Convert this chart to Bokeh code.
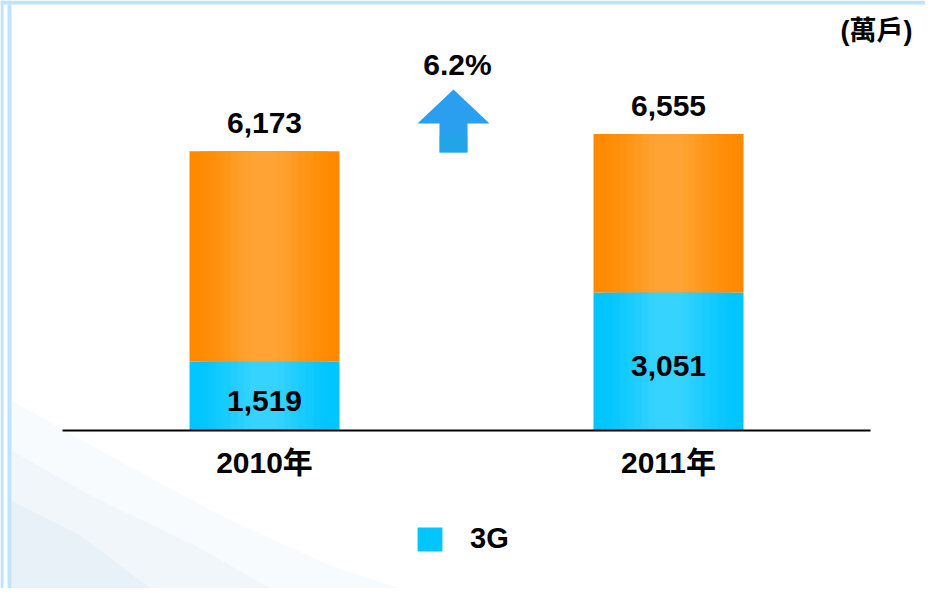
from bokeh.plotting import figure
from bokeh.models import Range1d, Legend, LegendItem
from bokeh.core.properties import value
from bokeh.embed import file_html
from bokeh.resources import INLINE

# ---- data ----
years = ["2010年", "2011年"]
total = [6173, 6555]
g3 = [1519, 3051]
unit_label = "(萬戶)"
legend_label = "3G"

# ---- layout helpers (pixel -> data) ----
W, H = 925, 588
BASE = 430          # baseline, px from top
K = 0.04525         # px per unit
PXU = 404.0         # px per category step
X0 = 0.5 - 264 / PXU


def X(px):
    return X0 + px / PXU


def Y(py):
    return (BASE - py) / K


FONT = value("Liberation Sans, Noto Sans CJK TC")

p = figure(width=W, height=H, output_backend="svg", toolbar_location=None,
           x_range=Range1d(X(0), X(W)), y_range=Range1d(Y(H), Y(0)),
           x_axis_type=None, y_axis_type=None, min_border=0,
           outline_line_color=None, background_fill_color="white",
           border_fill_color="white")
p.grid.visible = False

# faint haze bottom-left
for pts, a in [
    ([(11, 400), (100, 450), (220, 515), (330, 565), (400, 588), (11, 588)], 0.12),
    ([(11, 450), (90, 495), (200, 548), (270, 588), (11, 588)], 0.15),
    ([(11, 500), (80, 535), (150, 588), (11, 588)], 0.18),
]:
    p.patch([X(a_[0]) for a_ in pts], [Y(a_[1]) for a_ in pts],
            fill_color="#c9dcef", fill_alpha=a, line_color=None)

# ---- decorative frame ----
frame_c = "#bfe3fb"
p.quad(left=X(0), right=X(3), bottom=Y(H), top=Y(0), fill_color=frame_c, line_color=None)
p.quad(left=X(7), right=X(11), bottom=Y(H), top=Y(0), fill_color=frame_c, line_color=None)
p.quad(left=X(0), right=X(W), bottom=Y(4), top=Y(0), fill_color=frame_c, line_color=None)

# ---- bars ----
xs = [i + 0.5 for i in range(len(years))]
bw = 150 / PXU


def blend(c1, c2, t):
    return "#%02x%02x%02x" % tuple(int(round(a + (b - a) * t)) for a, b in zip(c1, c2))


cyan_edge, cyan_mid = (0, 197, 255), (60, 212, 255)
orng_edge, orng_mid = (255, 138, 0), (255, 166, 58)

cyan_r = p.vbar(x=xs, bottom=0, top=g3, width=bw, fill_color=blend(cyan_edge, cyan_mid, 0),
                line_color=None)
p.vbar(x=xs, bottom=g3, top=total, width=bw, fill_color=blend(orng_edge, orng_mid, 0),
       line_color=None)
steps = [(0.85, 0.12), (0.75, 0.25), (0.65, 0.4), (0.55, 0.55), (0.45, 0.7),
         (0.36, 0.82), (0.27, 0.92), (0.18, 1.0)]
for frac, t in steps:
    p.vbar(x=xs, bottom=0, top=g3, width=bw * frac,
           fill_color=blend(cyan_edge, cyan_mid, t), fill_alpha=0.5, line_color=None)
    p.vbar(x=xs, bottom=g3, top=total, width=bw * frac,
           fill_color=blend(orng_edge, orng_mid, t), fill_alpha=0.5, line_color=None)

# baseline
p.segment(x0=0, x1=len(years), y0=0, y1=0, line_color="black", line_width=2)

# ---- labels ----
p.text(x=xs, y=[t + 28 / K for t in total], text=[f"{t:,}" for t in total],
       text_align="center", text_baseline="middle", text_font=FONT,
       text_font_style="bold", text_font_size="30px", text_color="black")
p.text(x=xs, y=[g / 2 - 5 / K for g in g3], text=[f"{g:,}" for g in g3],
       text_align="center", text_baseline="middle", text_font=FONT,
       text_font_style="bold", text_font_size="30px", text_color="black")
p.text(x=xs, y=[-32 / K] * len(xs), text=years,
       text_align="center", text_baseline="middle", text_font=FONT,
       text_font_style="bold", text_font_size="30px", text_color="black")

# unit label
p.text(x=[X(912)], y=[Y(30)], text=[unit_label], text_align="right",
       text_baseline="middle", text_font=FONT, text_font_style="bold",
       text_font_size="27px", text_color="black")

# growth arrow
growth = (total[1] - total[0]) / total[0] * 100
ax = [453, 489, 467, 467, 439, 439, 417]
ay = [89, 123, 123, 152, 152, 123, 123]
p.patch([X(v) for v in ax], [Y(v) for v in ay], fill_color="#2a9ff0", line_color=None)
p.patch([X(v) for v in [439, 467, 467, 439]], [Y(v) for v in [135, 135, 152, 152]],
        fill_color="#1fa8e4", fill_alpha=0.7, line_color=None)
p.text(x=[X(457)], y=[Y(64)], text=[f"{growth:.1f}%"], text_align="center",
       text_baseline="middle", text_font=FONT, text_font_style="bold",
       text_font_size="30px", text_color="black")

# ---- legend ----
legend = Legend(items=[LegendItem(label=legend_label, renderers=[cyan_r])],
                location=(414, 33), orientation="horizontal",
                glyph_width=31, glyph_height=30, label_standoff=25,
                label_text_font="Liberation Sans", label_text_font_style="bold",
                label_text_font_size="29px", label_text_color="black",
                padding=0, margin=0, spacing=0,
                border_line_alpha=0, background_fill_alpha=0)
p.add_layout(legend, "center")

open("out.html", "w").write(file_html(p, INLINE))
